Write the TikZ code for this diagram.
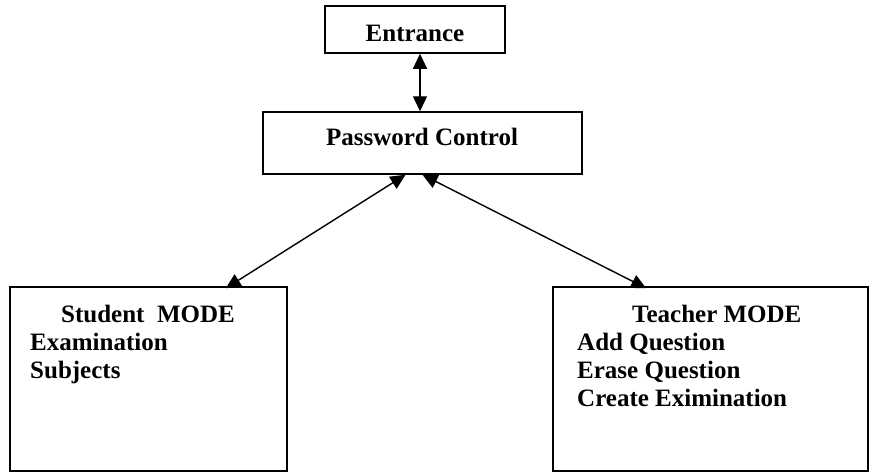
\documentclass[tikz,border=0pt]{standalone}
\usepackage{fontspec}
\setmainfont{Liberation Serif}
\usetikzlibrary{arrows.meta}
\begin{document}
\begin{tikzpicture}[x=1pt,y=-1pt,
  box/.style={draw,line width=1.5pt,inner sep=0pt},
  txt/.style={inner sep=0pt,anchor=base west,font=\fontsize{25}{28}\selectfont\bfseries},
  ctxt/.style={inner sep=0pt,anchor=base,font=\fontsize{25}{28}\selectfont\bfseries},
  link/.style={line width=1.4pt,{Triangle[length=15pt,width=14pt]}-{Triangle[length=15pt,width=14pt]}}]
\useasboundingbox[fill=white] (0,0) rectangle (870,472);
\node[box,minimum width=180pt,minimum height=47pt] (entrance) at (415,29.5) {};
\node[box,minimum width=319pt,minimum height=62pt] (password) at (422.5,143) {};
\node[box,minimum width=277pt,minimum height=184pt] (student) at (148.5,379) {};
\node[box,minimum width=315pt,minimum height=184pt] (teacher) at (710.5,379) {};
\node[ctxt] (t1) at (415,41) {Entrance};
\node[ctxt] (t2) at (422,145) {Password Control};
\node[txt] (s1) at (61,322) {Student\ \ MODE};
\node[txt] (s2) at (30,350) {Examination};
\node[txt] (s3) at (30,378) {Subjects};
\node[txt] (r1) at (632,322) {Teacher MODE};
\node[txt] (r2) at (577,350) {Add Question};
\node[txt] (r3) at (577,378) {Erase Question};
\node[txt] (r4) at (577,406) {Create Eximination};
\draw[link] ([xshift=5pt]entrance.south) -- ([xshift=5pt]entrance.south |- password.north);
\draw[link] ([xshift=-17pt]password.south) -- ([xshift=-62pt,yshift=-2pt]student.north east);
\draw[link] (password.south) -- ([xshift=94pt,yshift=-2pt]teacher.north west);
\end{tikzpicture}
\end{document}
